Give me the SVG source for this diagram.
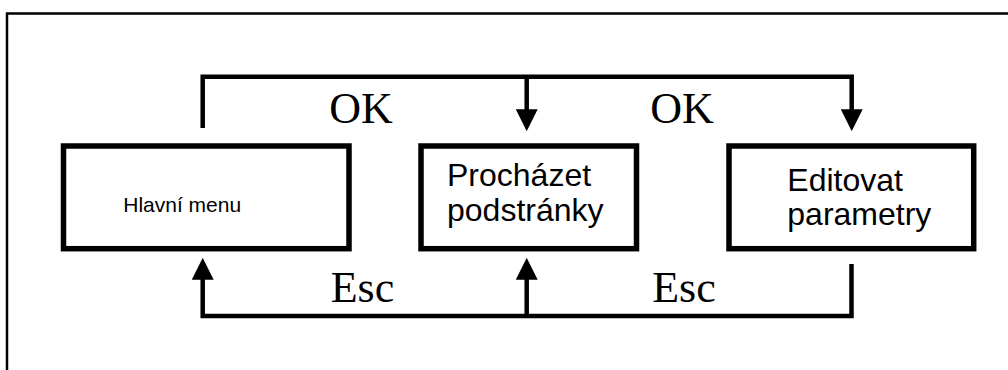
<svg xmlns="http://www.w3.org/2000/svg" width="1008" height="370" viewBox="0 0 1008 370">
<style>
.frame{fill:none;stroke:#000;stroke-width:2.5}
.box{fill:#fff;stroke:#000;stroke-width:5.5}
.conn{fill:none;stroke:#000;stroke-width:4.5;stroke-linejoin:miter;stroke-linecap:butt}
.lbl{font-family:"Liberation Serif","Times New Roman",serif;font-size:44px;fill:#000;text-anchor:middle}
.sans{font-family:"Liberation Sans",Arial,sans-serif;fill:#000}
</style>
<defs>
<marker id="arr" markerUnits="userSpaceOnUse" markerWidth="22" markerHeight="22" refX="11" refY="10.5" orient="auto" viewBox="0 0 21 21">
<path d="M0,0 L21,10.5 L0,21 Z" fill="#000"/>
</marker>
</defs>
<rect width="1008" height="370" fill="#fff"/>
<rect class="frame" x="7" y="13.5" width="1012" height="370"/>
<g id="connectors">
<path class="conn" d="M202.7,128 V76.7 H851.7 V120.7" marker-end="url(#arr)"/>
<path class="conn" d="M526.7,76.7 V120.7" marker-end="url(#arr)"/>
<path class="conn" d="M851.5,264 V316 H202.7 V268.3" marker-end="url(#arr)"/>
<path class="conn" d="M526.7,316 V268.3" marker-end="url(#arr)"/>
<text class="lbl" x="361" y="123.3">OK</text>
<text class="lbl" x="682" y="123.3">OK</text>
<text class="lbl" x="362.5" y="301.7">Esc</text>
<text class="lbl" x="684" y="301.7">Esc</text>
</g>
<g id="hlavni-menu">
<rect class="box" x="63.5" y="146" width="285.5" height="102.7"/>
<text class="sans" x="182.2" y="211.7" font-size="21" text-anchor="middle">Hlavní menu</text>
</g>
<g id="prochazet-podstranky">
<rect class="box" x="421" y="146" width="215.5" height="102.7"/>
<text class="sans" font-size="32"><tspan x="447" y="186">Procházet</tspan><tspan x="447" y="220.5">podstránky</tspan></text>
</g>
<g id="editovat-parametry">
<rect class="box" x="729" y="146" width="244.7" height="102.7"/>
<text class="sans" font-size="32"><tspan x="787.3" y="191">Editovat</tspan><tspan x="787.3" y="225">parametry</tspan></text>
</g>
</svg>
